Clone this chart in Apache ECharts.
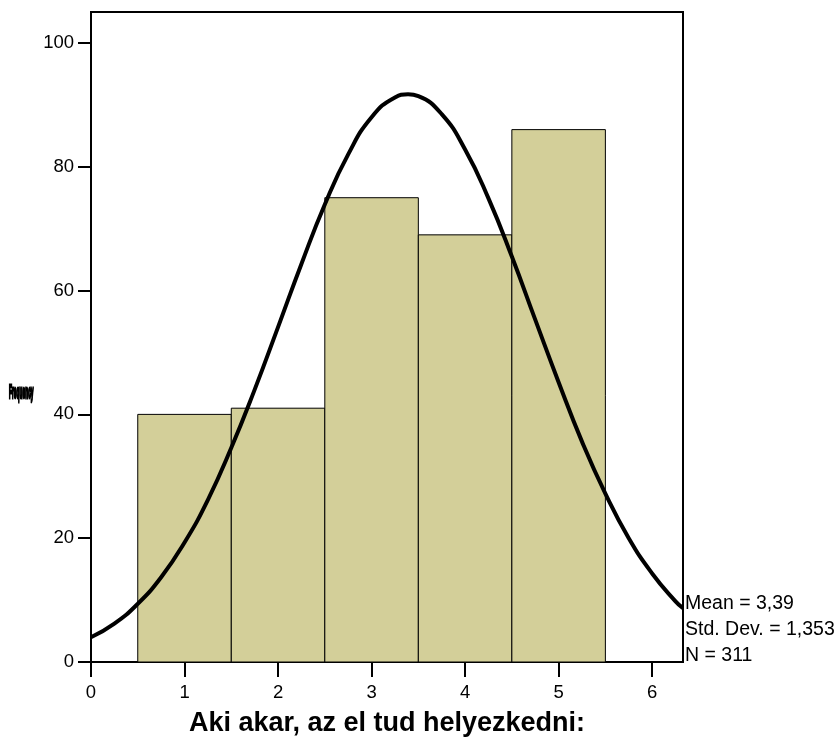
<!DOCTYPE html>
<html>
<head>
<meta charset="utf-8">
<script src="https://cdn.jsdelivr.net/npm/echarts@6/dist/echarts.min.js"></script>
<style>
  html, body { margin: 0; padding: 0; background: #fff; }
  #chart { width: 840px; height: 742px; }
</style>
</head>
<body>
<div id="chart"></div>
<script>
// histogram bins (bin centre) and counts
const binCenters = [1, 2, 3, 4, 5]
const counts = [40, 41, 75, 69, 86]
// normal curve
const curveX = [0, 0.25, 0.5, 0.75, 1, 1.25, 1.5, 1.75, 2, 2.25, 2.5, 2.75, 3, 3.25, 3.39, 3.5, 3.75, 4, 4.25, 4.5, 4.75, 5, 5.25, 5.5, 5.75, 6, 6.25, 6.33]
const curveY = [4.0, 6.2, 9.4, 13.7, 19.3, 26.2, 34.6, 44.0, 54.1, 64.3, 73.9, 82.0, 88.0, 91.2, 91.7, 91.4, 88.5, 82.8, 74.9, 65.5, 55.3, 45.2, 35.6, 27.2, 20.0, 14.3, 9.8, 8.7]
const xTicks = [0, 1, 2, 3, 4, 5, 6]
const yTicks = [0, 20, 40, 60, 80, 100]
const statLines = ['Mean = 3,39', 'Std. Dev. = 1,353', 'N = 311']
const xTitle = 'Aki akar, az el tud helyezkedni:'
const yTitle = 'Frequency'

const FONT = 'Liberation Sans, Arial, sans-serif'

const chart = echarts.init(document.getElementById('chart'))

const option = {
  animation: false,
  backgroundColor: '#fff',
  grid: {
    left: 91, right: 157, top: 12, bottom: 80,
    outerBoundsMode: 'none',
    show: true, borderColor: '#000', borderWidth: 2, backgroundColor: 'transparent',
  },
  xAxis: {
    type: 'value', min: 0, max: 6.33,
    splitLine: { show: false },
    axisLine: { onZero: false, lineStyle: { color: '#000', width: 2 } },
    axisTick: { length: 15, lineStyle: { color: '#000', width: 2 }, customValues: xTicks },
    axisLabel: { margin: 21, color: '#000', fontSize: 18.5, fontFamily: FONT, customValues: xTicks },
    name: xTitle, nameLocation: 'middle', nameGap: 48,
    nameTextStyle: { color: '#000', fontSize: 27, fontWeight: 'bold', fontFamily: FONT },
  },
  yAxis: {
    type: 'value', min: 0, max: 105,
    splitLine: { show: false },
    axisLine: { show: true, lineStyle: { color: '#000', width: 2 } },
    axisTick: { show: true, length: 13, lineStyle: { color: '#000', width: 2 }, customValues: yTicks },
    axisLabel: { margin: 17, color: '#000', fontSize: 18.5, fontFamily: FONT, customValues: yTicks },
  },
  graphic: [
    {
      // SPSS squashes the rotated title into a tiny block
      type: 'text', x: 9, y: 384, scaleX: 0.27,
      style: { text: yTitle, fill: '#000', stroke: '#000', lineWidth: 3, font: 'bold 18px ' + FONT },
    },
    {
      type: 'text', x: 685, y: 591,
      style: { text: statLines.join('\n'), fill: '#000', font: '19.5px ' + FONT, lineHeight: 26 },
    },
  ],
  series: [
    {
      type: 'custom',
      data: binCenters.map((c, i) => [c, counts[i]]),
      renderItem(params, api) {
        const x = api.value(0)
        const p0 = api.coord([x - 0.5, api.value(1)])
        const p1 = api.coord([x + 0.5, 0])
        return {
          type: 'rect',
          shape: { x: p0[0], y: p0[1], width: p1[0] - p0[0], height: p1[1] - p0[1] },
          style: { fill: '#d3cf99', stroke: '#000', lineWidth: 1 },
        }
      },
      z: 1,
    },
    {
      type: 'line',
      data: curveX.map((x, i) => [x, curveY[i]]),
      smooth: true,
      showSymbol: false,
      lineStyle: { color: '#000', width: 4 },
      z: 3,
    },
  ],
}

chart.setOption(option)
</script>
</body>
</html>
